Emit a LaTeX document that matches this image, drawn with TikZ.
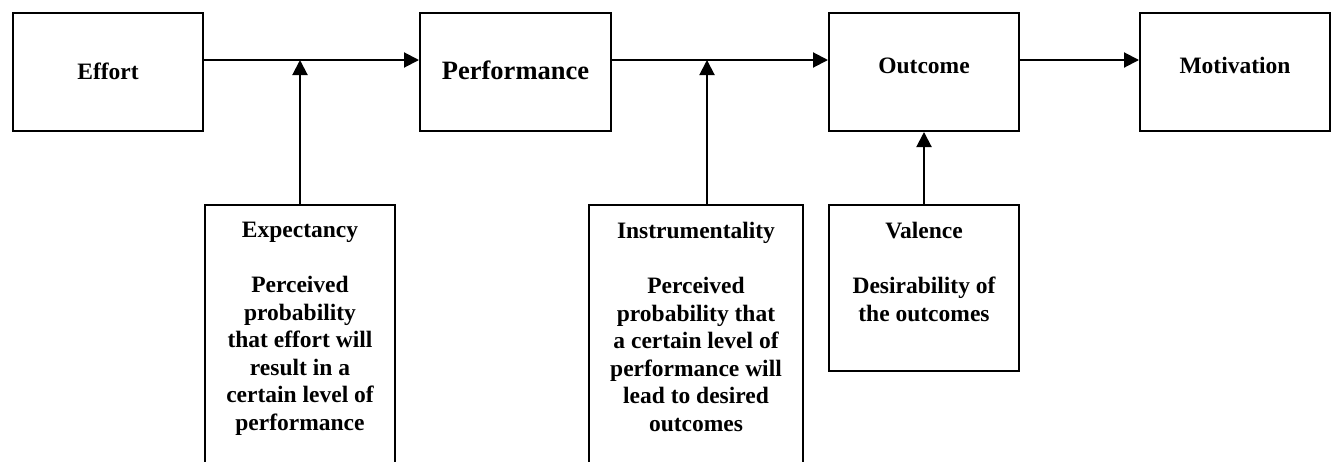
\documentclass[tikz,border=0pt]{standalone}
\usepackage{fontspec}
\setmainfont{Liberation Serif}
\usetikzlibrary{arrows.meta}
\begin{document}
\begin{tikzpicture}[x=1pt,y=-1pt,
  box/.style={draw=black,line width=2pt,rectangle,inner sep=0pt,minimum width=190pt},
  topbox/.style={box,minimum height=118pt},
  lbl/.style={inner sep=0pt,font=\fontsize{23.5}{27.5}\selectfont\bfseries,anchor=base},
  desc/.style={inner sep=0pt,font=\fontsize{23.5}{27.5}\selectfont\bfseries,align=center,anchor=north},
  arr/.style={line width=2pt,-{Triangle[length=15pt,width=15pt]}}]
\useasboundingbox (0,0) rectangle (1335,461);
\clip (0,0) rectangle (1335,461);
% top boxes
\node[topbox] (effort) at (108,72) {};
\node[topbox,minimum width=191pt] (perf) at (515.5,72) {};
\node[topbox] (outcome) at (924,72) {};
\node[topbox] (motiv) at (1235,72) {};
\node[lbl] (effortl) at (108,79) {Effort};
\node[lbl,font=\fontsize{26.5}{30}\selectfont\bfseries] (perfl) at (515.5,79) {Performance};
\node[lbl] (outcomel) at (924,73) {Outcome};
\node[lbl] (motivl) at (1235,73) {Motivation};
% bottom boxes
\node[box,minimum height=295pt] (expect) at (300,352.5) {};
\node[box,minimum width=214pt,minimum height=295pt] (instr) at (696,352.5) {};
\node[box,minimum height=166pt] (valence) at (924,288) {};
\node[desc] (expectt) at (300,222) {Expectancy\\[27.5pt]Perceived\\probability\\that effort will\\result in a\\certain level of\\performance};
\node[desc] (instrt) at (696,222) {Instrumentality\\[27.5pt]Perceived\\probability that\\a certain level of\\performance will\\lead to desired\\outcomes};
\node[desc] (valencet) at (924,222) {Valence\\[27.5pt]Desirability of\\the outcomes};
% connectors
\coordinate (j1) at (300,60);
\coordinate (j2) at (707,60);
\draw[arr] ([yshift=12pt]effort.east) -- ([yshift=12pt]perf.west);
\draw[arr] ([yshift=12pt]perf.east) -- ([yshift=12pt]outcome.west);
\draw[arr] ([yshift=12pt]outcome.east) -- ([yshift=12pt]motiv.west);
\draw[arr] (expect.north) -- (j1);
\draw[arr] (j2 |- instr.north) -- (j2);
\draw[arr] (valence.north) -- (outcome.south);
\end{tikzpicture}
\end{document}
